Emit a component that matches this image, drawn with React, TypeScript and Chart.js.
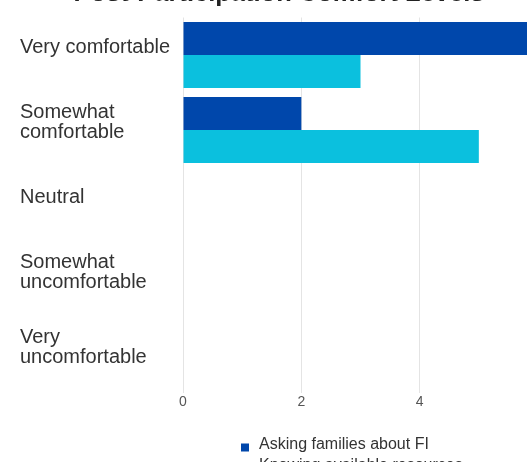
import { useEffect, useRef } from "react";
import { Chart, registerables } from "chart.js";

Chart.register(...registerables);

// Response categories, top to bottom
const categories = [
  "Very comfortable",
  ["Somewhat", "comfortable"],
  "Neutral",
  ["Somewhat", "uncomfortable"],
  ["Very", "uncomfortable"],
];

// Number of respondents per category
const askingFamilies = [6, 2, 0, 0, 0];
const knowingResources = [3, 5, 0, 0, 0];

const seriesNames = ["Asking families about FI", "Knowing available resources"];
const xTicks = [0, 2, 4, 6];
const chartTitle = "Post-Participation Comfort Levels";

const FONT = "'Liberation Sans', Arial, Helvetica, sans-serif";

// Legend drawn as a vertical list under the x axis
const stackedLegend = {
  id: "stackedLegend",
  afterDraw(chart: any) {
    const { ctx, chartArea } = chart;
    ctx.save();
    ctx.font = `16px ${FONT}`;
    ctx.textBaseline = "middle";
    ctx.textAlign = "left";
    chart.data.datasets.forEach((ds: any, i: number) => {
      const y = chartArea.bottom + 52.5 + i * 21;
      const x = chartArea.left + 58;
      ctx.fillStyle = ds.backgroundColor;
      ctx.fillRect(x, y - 1.5, 8, 8);
      ctx.fillStyle = "#333333";
      ctx.fillText(ds.label, x + 18, y);
    });
    ctx.restore();
  },
};

export default function App() {
  const canvasRef = useRef<HTMLCanvasElement | null>(null);

  useEffect(() => {
    if (!canvasRef.current) return;
    const chart = new Chart(canvasRef.current, {
      type: "bar",
      data: {
        labels: categories as any,
        datasets: [
          {
            label: seriesNames[0],
            data: askingFamilies,
            backgroundColor: "#0047ab",
            borderWidth: 0,
            categoryPercentage: 0.88,
            barPercentage: 1,
          },
          {
            label: seriesNames[1],
            data: knowingResources,
            backgroundColor: "#0bc0de",
            borderWidth: 0,
            categoryPercentage: 0.88,
            barPercentage: 1,
          },
        ],
      },
      options: {
        indexAxis: "y",
        animation: false,
        responsive: true,
        maintainAspectRatio: false,
        layout: { padding: { left: 20, right: 12, top: 0, bottom: 68.7 } },
        plugins: {
          legend: { display: false },
          tooltip: { enabled: false },
          title: {
            display: true,
            text: chartTitle,
            color: "#222222",
            font: { family: FONT, size: 25.5, weight: "bold", lineHeight: 1.2 },
            padding: { top: 18.2, bottom: 8.7 },
          },
        },
        scales: {
          x: {
            min: xTicks[0],
            max: xTicks[xTicks.length - 1],
            afterBuildTicks: (scale: any) => {
              scale.ticks = xTicks.map((v) => ({ value: v }));
            },
            grid: { color: "#e4e4e4", lineWidth: 1, drawTicks: false },
            border: { display: false },
            ticks: {
              color: "#555555",
              padding: 1,
              font: { family: FONT, size: 14 },
            },
          },
          y: {
            grid: { display: false },
            border: { display: false },
            afterFit: (scale: any) => {
              scale.width = 163;
            },
            ticks: {
              crossAlign: "far",
              color: "#333333",
              labelOffset: -7.5,
              font: { family: FONT, size: 20, lineHeight: 1.0 },
            },
          },
        },
      },
      plugins: [stackedLegend],
    });
    return () => chart.destroy();
  }, []);

  return (
    <div
      style={{
        position: "fixed",
        left: 0,
        top: 0,
        width: 527,
        height: 462,
        overflow: "hidden",
        background: "#ffffff",
      }}
    >
      <div style={{ position: "absolute", left: 0, top: -40, width: 550, height: 520 }}>
        <canvas ref={canvasRef} />
      </div>
    </div>
  );
}
